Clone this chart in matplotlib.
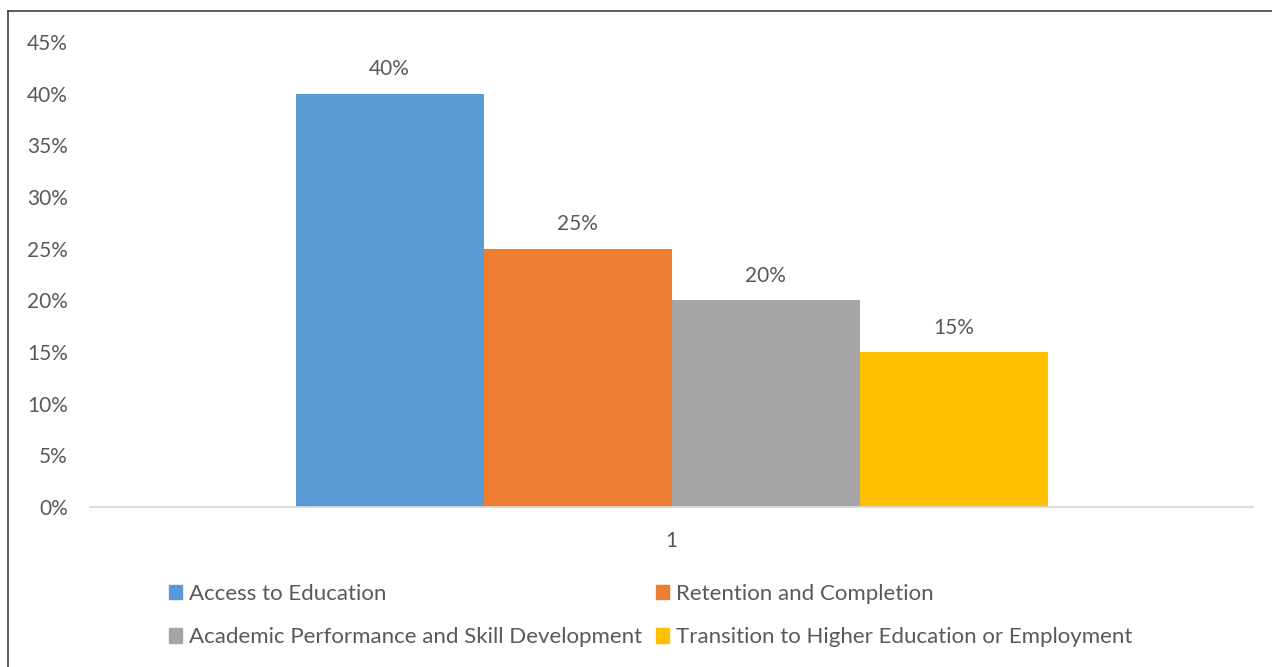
import matplotlib.pyplot as plt
from matplotlib.lines import Line2D
from matplotlib.patches import Patch

categories = ["Access to Education", "Retention and Completion",
              "Academic Performance and Skill Development",
              "Transition to Higher Education or Employment"]
values = [0.40, 0.25, 0.20, 0.15]
colors = ["#5b9bd5", "#ed7d31", "#a5a5a5", "#ffc000"]
yticks = [0, 0.05, 0.10, 0.15, 0.20, 0.25, 0.30, 0.35, 0.40, 0.45]
xlabel = "1"

txt = "#595959"
plt.rcParams['font.family'] = ['Lato', 'DejaVu Sans']

fig = plt.figure(figsize=(12.72, 6.67), dpi=100)
W, H = 1272, 667
ax = fig.add_axes([90 / W, 1 - 507 / H, (1253 - 90) / W, (507 - 42) / H])

w = 188 / 1163
for i, (v, c) in enumerate(zip(values, colors)):
    x = (i - 1.5) * w
    ax.bar(x, v, width=w, color=c, zorder=2)
    ax.text(x, v + 0.014, f"{v:.0%}", ha='center', va='bottom', fontsize=15, color=txt)

ax.set_xlim(-0.5, 0.5)
ax.set_ylim(0, 0.45)
ax.set_yticks(yticks)
ax.set_yticklabels([f"{t:.0%}" for t in yticks])
ax.set_xticks([0])
ax.set_xticklabels([xlabel])
ax.tick_params(length=0, labelsize=15, labelcolor=txt)
ax.tick_params(axis='y', pad=16)
ax.tick_params(axis='x', pad=17)
for s in ['top', 'right', 'left']:
    ax.spines[s].set_visible(False)
ax.spines['bottom'].set_color('#d9d9d9')
ax.spines['bottom'].set_linewidth(1.3)

handles = [Patch(color=c) for c in colors]
order = [0, 2, 1, 3]
leg = fig.legend([handles[i] for i in order], [categories[i] for i in order],
                 ncol=2, loc='upper left', bbox_to_anchor=(149 / W, 1 - 564 / H),
                 frameon=False, fontsize=16, handlelength=0.6, handleheight=0.6,
                 handletextpad=0.3, columnspacing=0.62, labelspacing=1.05,
                 labelcolor=txt)

# chart frame
fig.add_artist(Line2D([8 / W, 8 / W], [0, 1 - 11 / H], color='#404040', lw=1.2))
fig.add_artist(Line2D([8 / W, 1], [1 - 11 / H, 1 - 11 / H], color='#404040', lw=1.2))

fig.savefig("out.png", dpi=100)
